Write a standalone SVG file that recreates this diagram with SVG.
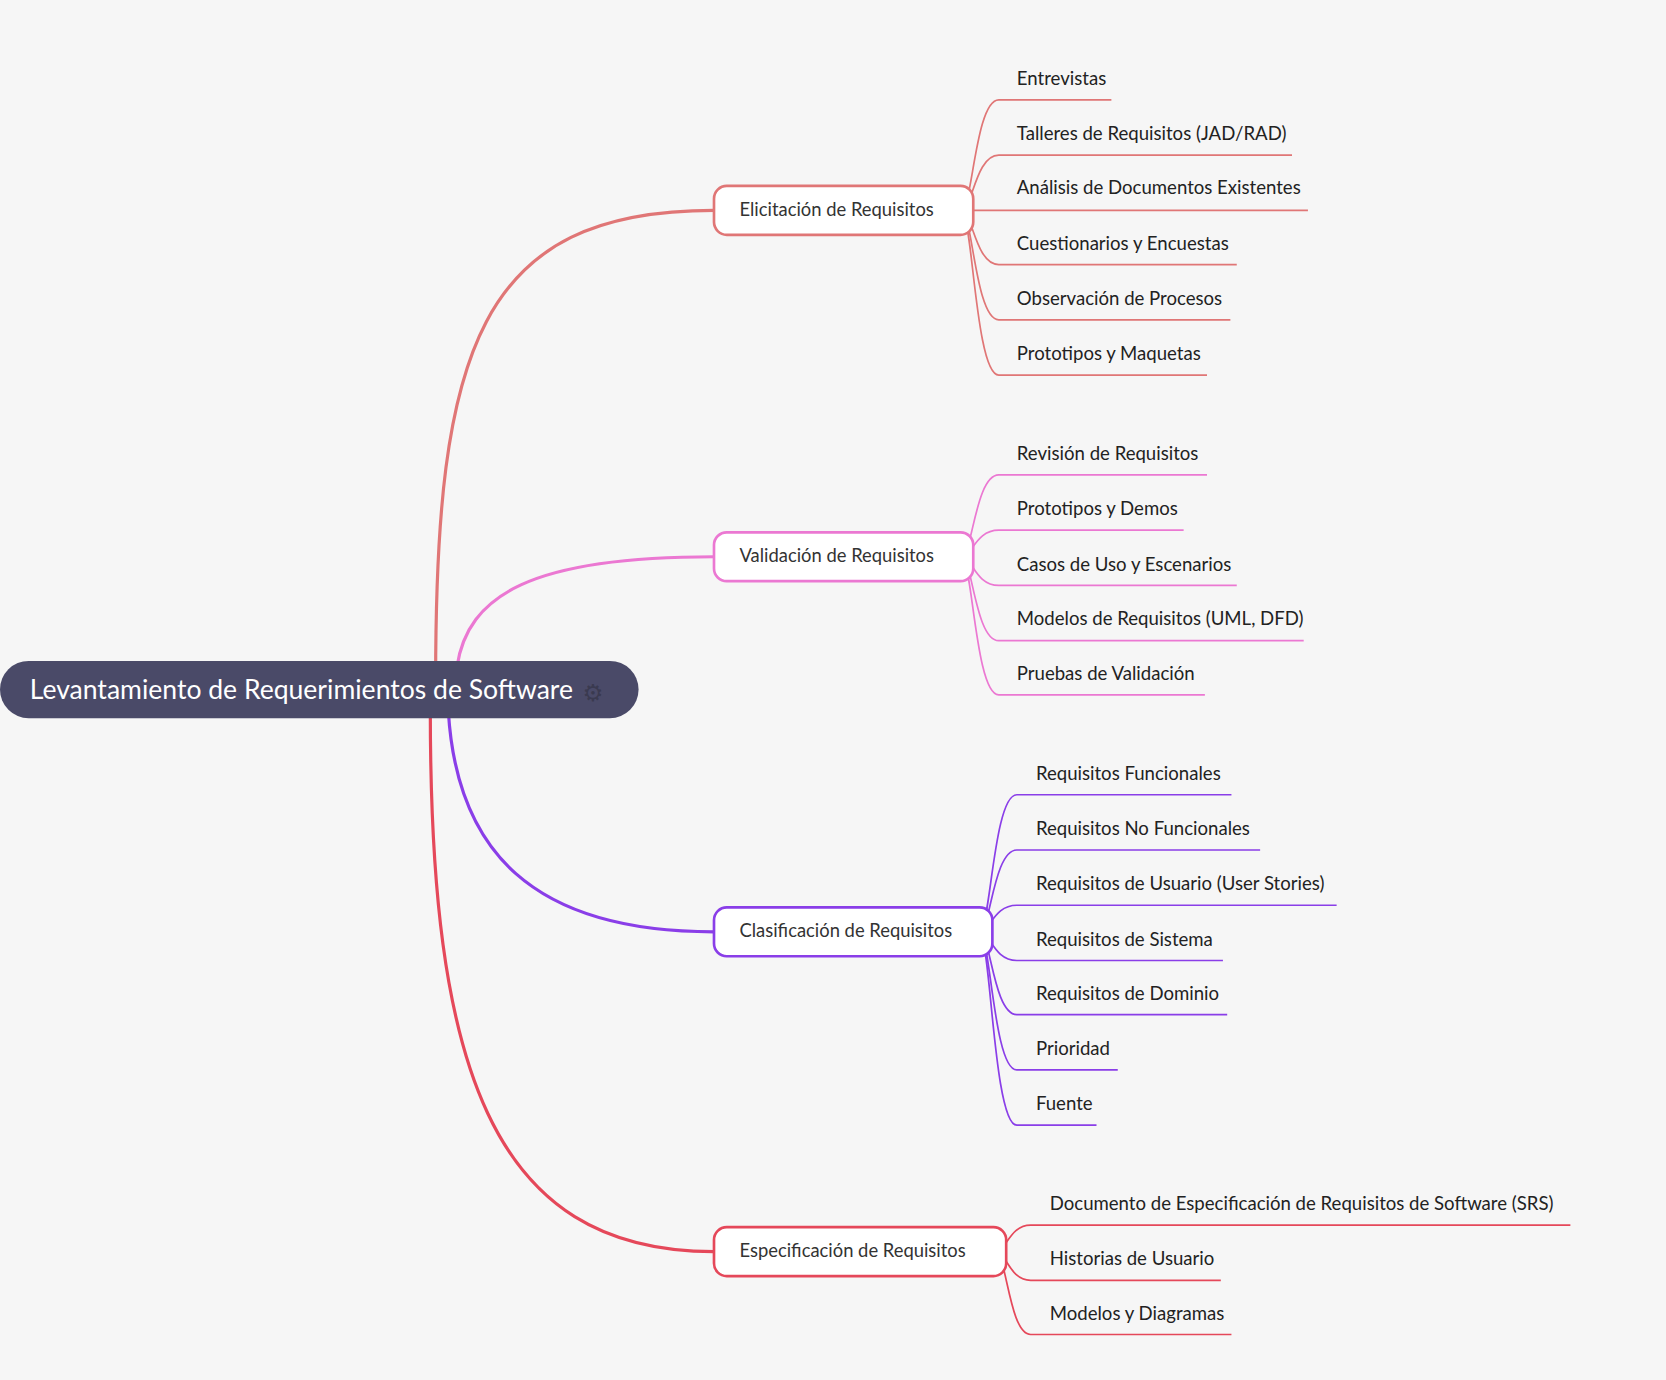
<svg xmlns="http://www.w3.org/2000/svg" width="1666" height="1380" viewBox="0 0 1666 1380">
<style>
.c{fill:none;stroke-width:1.6}
.b{fill:none;stroke-width:3}
.n{fill:#fff;stroke-width:2.5}
.t{font-family:Lato,"Liberation Sans",sans-serif;font-size:17.3px;fill:#333}
.l{font-family:Lato,"Liberation Sans",sans-serif;font-size:17.5px;fill:#222}
</style>
<rect width="1666" height="1380" fill="#f6f6f6"/>
<g transform="scale(1.0625)">
<g id="connectors">
<path class="b" stroke="#e07676" d="M410,640 C410,330 450,198 672,198"/>
<path class="b" stroke="#eb78d2" d="M430,628 C440,560 500,524 672,524"/>
<path class="b" stroke="#8a3ee8" d="M422,670 C430,800 500,877 672,877"/>
<path class="b" stroke="#e5485a" d="M405,670 C405,1000 460,1178 672,1178"/>
<g stroke="#e07676" class="c">
<path d="M905,198 C915,198 918,94 940,94 L1046,94"/>
<path d="M905,198 C915,198 918,146 940,146 L1216,146"/>
<path d="M905,198 L1231,198"/>
<path d="M905,198 C915,198 918,249 940,249 L1164,249"/>
<path d="M905,198 C915,198 918,301 940,301 L1158,301"/>
<path d="M905,198 C915,198 918,353 940,353 L1136,353"/>
</g>
<g stroke="#eb78d2" class="c">
<path d="M905,524 C915,524 918,447 940,447 L1136,447"/>
<path d="M905,524 C915,524 918,499 940,499 L1114,499"/>
<path d="M905,524 C915,524 918,551 940,551 L1164,551"/>
<path d="M905,524 C915,524 918,603 940,603 L1227,603"/>
<path d="M905,524 C915,524 918,654 940,654 L1134,654"/>
</g>
<g stroke="#8a3ee8" class="c">
<path d="M922,877 C932,877 935,748 957,748 L1159,748"/>
<path d="M922,877 C932,877 935,800 957,800 L1186,800"/>
<path d="M922,877 C932,877 935,852 957,852 L1258,852"/>
<path d="M922,877 C932,877 935,904 957,904 L1151,904"/>
<path d="M922,877 C932,877 935,955 957,955 L1155,955"/>
<path d="M922,877 C932,877 935,1007 957,1007 L1052,1007"/>
<path d="M922,877 C932,877 935,1059 957,1059 L1032,1059"/>
</g>
<g stroke="#e5485a" class="c">
<path d="M937,1178 C947,1178 950,1153 970,1153 L1478,1153"/>
<path d="M937,1178 C947,1178 950,1205 970,1205 L1149,1205"/>
<path d="M937,1178 C947,1178 950,1256 970,1256 L1159,1256"/>
</g>
</g>
<g id="root">
<rect x="0" y="622" width="601" height="54" rx="27" fill="#4a4a68"/>
<text x="28" y="658" font-family="Lato,'Liberation Sans',sans-serif" font-size="25" fill="#fff">Levantamiento de Requerimientos de Software</text>
<text x="558" y="660" font-family="'DejaVu Sans',sans-serif" font-size="22" fill="#3a3a50" text-anchor="middle">⚙</text>
</g>
<g id="n1"><rect class="n" stroke="#e07676" x="672" y="175" width="244" height="46" rx="12"/><text class="t" x="696" y="203">Elicitación de Requisitos</text></g>
<g id="n2"><rect class="n" stroke="#eb78d2" x="672" y="501" width="244" height="46" rx="12"/><text class="t" x="696" y="529">Validación de Requisitos</text></g>
<g id="n3"><rect class="n" stroke="#8a3ee8" x="672" y="854" width="262" height="46" rx="12"/><text class="t" x="696" y="882">Clasificación de Requisitos</text></g>
<g id="n4"><rect class="n" stroke="#e5485a" x="672" y="1155" width="275" height="46" rx="12"/><text class="t" x="696" y="1183">Especificación de Requisitos</text></g>
<g id="leaves1">
<text class="l" x="957" y="80">Entrevistas</text>
<text class="l" x="957" y="132">Talleres de Requisitos (JAD/RAD)</text>
<text class="l" x="957" y="183">Análisis de Documentos Existentes</text>
<text class="l" x="957" y="235">Cuestionarios y Encuestas</text>
<text class="l" x="957" y="287">Observación de Procesos</text>
<text class="l" x="957" y="339">Prototipos y Maquetas</text>
</g>
<g id="leaves2">
<text class="l" x="957" y="433">Revisión de Requisitos</text>
<text class="l" x="957" y="485">Prototipos y Demos</text>
<text class="l" x="957" y="537">Casos de Uso y Escenarios</text>
<text class="l" x="957" y="588">Modelos de Requisitos (UML, DFD)</text>
<text class="l" x="957" y="640">Pruebas de Validación</text>
</g>
<g id="leaves3">
<text class="l" x="975" y="734">Requisitos Funcionales</text>
<text class="l" x="975" y="786">Requisitos No Funcionales</text>
<text class="l" x="975" y="838">Requisitos de Usuario (User Stories)</text>
<text class="l" x="975" y="890">Requisitos de Sistema</text>
<text class="l" x="975" y="941">Requisitos de Dominio</text>
<text class="l" x="975" y="993">Prioridad</text>
<text class="l" x="975" y="1045">Fuente</text>
</g>
<g id="leaves4">
<text class="l" x="988" y="1139">Documento de Especificación de Requisitos de Software (SRS)</text>
<text class="l" x="988" y="1191">Historias de Usuario</text>
<text class="l" x="988" y="1242">Modelos y Diagramas</text>
</g>
</g>
</svg>
